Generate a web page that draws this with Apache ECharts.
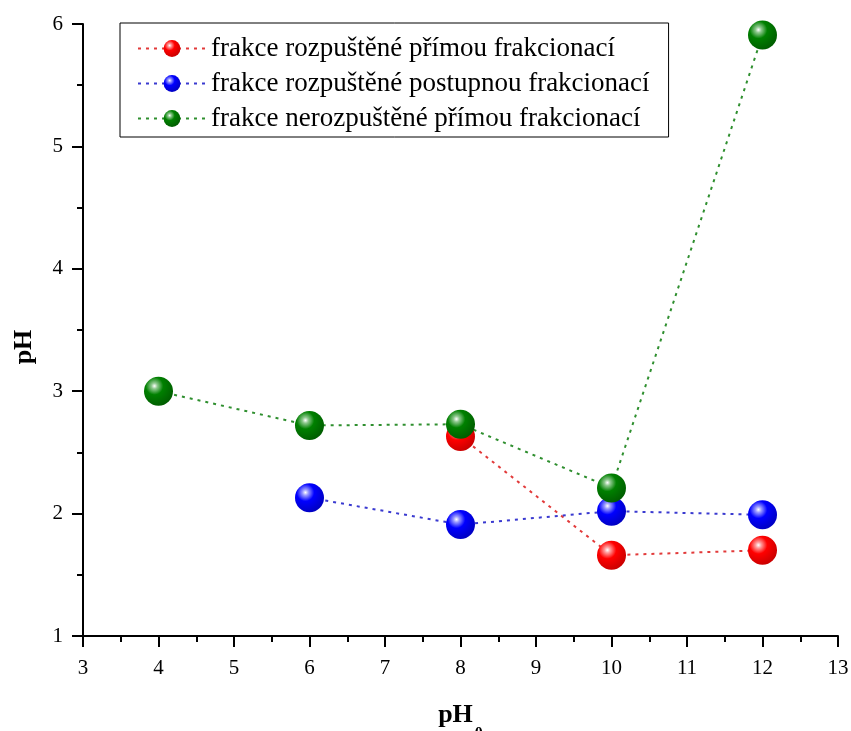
<!DOCTYPE html>
<html>
<head>
<meta charset="utf-8">
<script src="https://cdn.jsdelivr.net/npm/echarts@6/dist/echarts.min.js"></script>
<style>
  html, body { margin: 0; padding: 0; background: #fff; }
  #chart { width: 851px; height: 731px; }
</style>
</head>
<body>
<div id="chart"></div>
<script>
// pH of the fractions against the initial pH0
const seriesNames = [
  'frakce rozpuštěné přímou frakcionací',
  'frakce rozpuštěné postupnou frakcionací',
  'frakce nerozpuštěné přímou frakcionací'
];
const ph0Direct = [8, 10, 12];
const phDirect = [2.63, 1.66, 1.70];
const ph0Stepwise = [6, 8, 10, 12];
const phStepwise = [2.13, 1.91, 2.02, 1.99];
const ph0Undissolved = [4, 6, 8, 10, 12];
const phUndissolved = [3.00, 2.72, 2.73, 2.21, 5.91];

const serif = '"Liberation Serif", "Times New Roman", serif';

// glossy sphere fill for the markers
function sphere(base, light, dark) {
  return {
    type: 'radial', x: 0.36, y: 0.32, r: 0.72,
    colorStops: [
      { offset: 0, color: '#ffffff' },
      { offset: 0.14, color: light },
      { offset: 0.42, color: base },
      { offset: 1, color: dark }
    ]
  };
}

function pairs(xs, ys) { return xs.map((x, i) => [x, ys[i]]); }

function makeSeries(name, xs, ys, base, light, dark, lineColor) {
  return {
    name: name,
    type: 'line',
    data: pairs(xs, ys),
    symbol: 'circle',
    symbolSize: 29,
    showSymbol: true,
    itemStyle: { color: sphere(base, light, dark), borderWidth: 0 },
    lineStyle: { color: lineColor, width: 2, type: [3, 5] },
    emphasis: { disabled: true },
    animation: false
  };
}

const axisCommon = {
  axisLine: { show: true, onZero: false, lineStyle: { color: '#000', width: 2 } },
  axisTick: { show: true, length: 11, lineStyle: { color: '#000', width: 2 } },
  minorTick: { show: true, splitNumber: 2, length: 6, lineStyle: { color: '#000', width: 2 } },
  splitLine: { show: false }
};

const chart = echarts.init(document.getElementById('chart'), null, { renderer: 'canvas' });

chart.setOption({
  backgroundColor: '#ffffff',
  animation: false,
  grid: { left: 83, right: 13, top: 24, bottom: 95, containLabel: false, outerBoundsMode: 'none' },
  legend: {
    orient: 'vertical',
    left: 120,
    top: 23,
    padding: [12, 19, 5, 17],
    itemGap: 8,
    itemWidth: 68,
    itemHeight: 21,
    borderColor: '#000',
    borderWidth: 1,
    backgroundColor: '#fff',
    textStyle: { fontFamily: serif, fontSize: 27, color: '#000' },
    data: seriesNames
  },
  xAxis: Object.assign({
    type: 'value',
    min: 3, max: 13, interval: 1,
    name: '{a|pH}{b|0}',
    nameLocation: 'middle',
    nameGap: 53,
    nameTextStyle: {
      rich: {
        a: { fontFamily: serif, fontSize: 26, fontWeight: 'bold', color: '#000' },
        b: { fontFamily: serif, fontSize: 16, fontWeight: 'bold', color: '#000', padding: [37, 0, 0, 2] }
      }
    },
    axisLabel: { fontFamily: serif, fontSize: 21, color: '#000', margin: 22 }
  }, axisCommon),
  yAxis: Object.assign({
    type: 'value',
    min: 1, max: 6, interval: 1,
    name: 'pH',
    nameLocation: 'middle',
    nameGap: 46,
    nameTextStyle: { fontFamily: serif, fontSize: 26, fontWeight: 'bold', color: '#000', padding: [0, 34, 0, 0] },
    axisLabel: { fontFamily: serif, fontSize: 21, color: '#000', margin: 20 }
  }, axisCommon),
  series: [
    makeSeries(seriesNames[0], ph0Direct, phDirect, '#ff0000', '#ff9a9a', '#c80000', '#e23a3a'),
    makeSeries(seriesNames[1], ph0Stepwise, phStepwise, '#0000ff', '#9a9aff', '#0000c0', '#3a3ad0'),
    makeSeries(seriesNames[2], ph0Undissolved, phUndissolved, '#008000', '#8ec88e', '#005c00', '#2f8f2f')
  ]
});
</script>
</body>
</html>
